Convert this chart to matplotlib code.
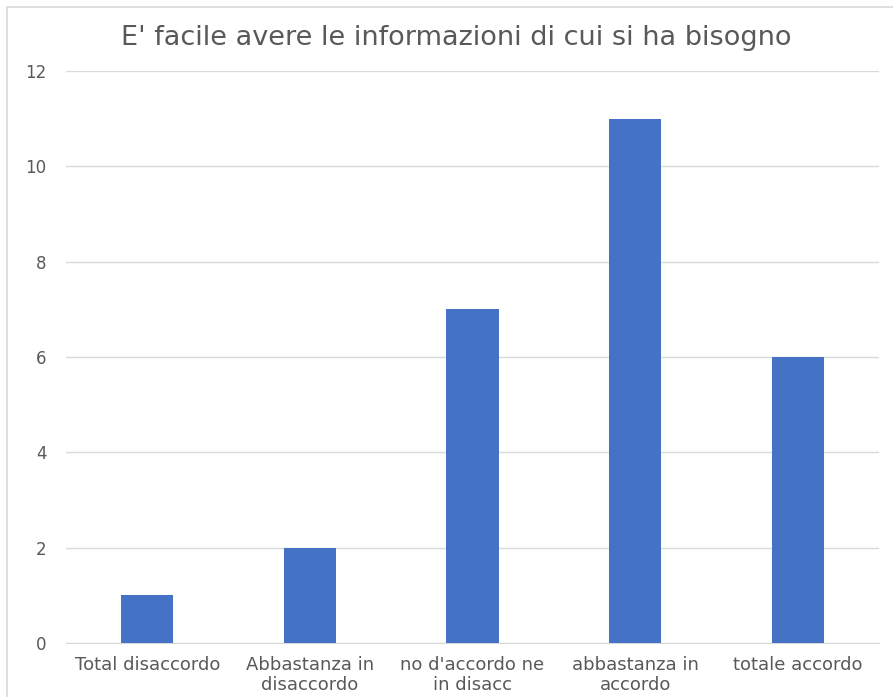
import matplotlib
matplotlib.use("Agg")
import matplotlib.pyplot as plt
from matplotlib.patches import Rectangle

categories = ["Total disaccordo", "Abbastanza in\ndisaccordo", "no d'accordo ne\nin disacc",
              "abbastanza in\naccordo", "totale accordo"]
values = [1, 2, 7, 11, 6]
yticks = [0, 2, 4, 6, 8, 10, 12]
title = "E' facile avere le informazioni di cui si ha bisogno"

W, H = 893, 697
fig = plt.figure(figsize=(W / 100, H / 100), dpi=100)
fig.patch.set_facecolor("white")

# chart border
fig.patches.append(Rectangle((7 / W, -0.1), 1.0, (H - 7) / H + 0.1, transform=fig.transFigure,
                             fill=False, edgecolor="#d9d9d9", linewidth=1.2))

ax = fig.add_axes([66 / W, (H - 643) / H, 813 / W, 572 / H])
x = range(len(categories))
ax.bar(x, values, width=0.32, color="#4472c4", zorder=3)
ax.set_xlim(-0.5, len(categories) - 0.5)
ax.set_ylim(0, 12)
ax.set_yticks(yticks)
ax.set_yticklabels([str(t) for t in yticks])
ax.set_xticks(list(x))
ax.set_xticklabels(categories)
ax.grid(axis="y", color="#d9d9d9", linewidth=1, zorder=0)
for s in ["top", "right", "left"]:
    ax.spines[s].set_visible(False)
ax.spines["bottom"].set_color("#d9d9d9")
ax.tick_params(axis="both", length=0, colors="#595959")
ax.tick_params(axis="y", pad=14)
ax.tick_params(axis="x", pad=9)
for lab in ax.get_xticklabels():
    lab.set_family(["DejaVu Sans"])
    lab.set_fontsize(13)
    lab.set_linespacing(1.15)
for lab in ax.get_yticklabels():
    lab.set_family(["DejaVu Sans"])
    lab.set_fontsize(12)

fig.text(456 / W, 1 - 38 / H, title, ha="center", va="center", fontsize=19.5,
         color="#595959", family=["DejaVu Sans"])

fig.savefig("out.png", dpi=100)
